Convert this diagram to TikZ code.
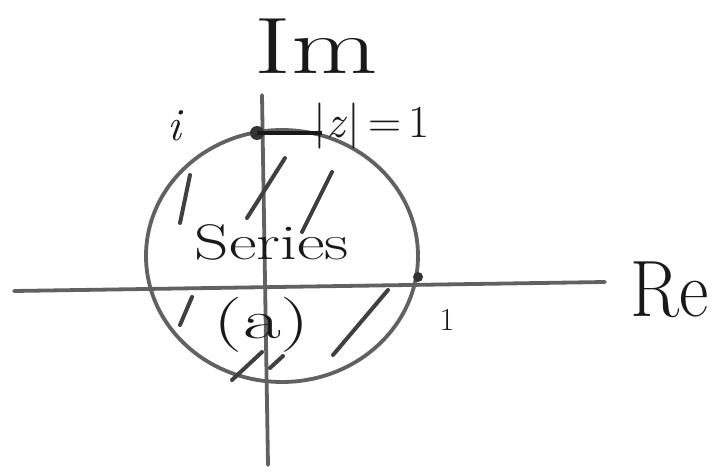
\documentclass[tikz,border=0pt]{standalone}
\usetikzlibrary{positioning}
\begin{document}
\begin{tikzpicture}[x=1pt,y=-1pt,
  axis/.style={line width=3.8pt,draw=black!62,line cap=round},
  hatch/.style={line width=4pt,draw=black!75,line cap=round},
  hand/.style={inner sep=0pt,text=black!90}]
\useasboundingbox (0,0) rectangle (716,474);
% axes
\coordinate (west) at (14,291);
\coordinate (east) at (605,282);
\coordinate (north) at (262,95);
\coordinate (south) at (268,465);
\draw[axis] (west) -- (east);
\draw[axis] (north) -- (south);
% unit circle
\coordinate (o) at (282,256);
\draw[axis] (o) ellipse [x radius=136, y radius=126];
\coordinate (ipt) at (257,133);
\coordinate (onept) at (418,277);
\fill[black!80] (ipt) circle (7);
\fill[black!80] (onept) circle (5);
\coordinate (bar) at (322,133);
\draw[line width=4.5pt,black!90] (ipt) -- (bar);
% hatching
\draw[hatch] (190,175) -- (180,223);
\draw[hatch] (285,158) -- (247,218);
\draw[hatch] (332,172) -- (302,232);
\draw[hatch] (192,297) -- (180,325);
\draw[hatch] (388,290) -- (333,355);
\draw[hatch] (262,352) -- (232,380);
\draw[hatch] (283,356) -- (270,368);
% labels
\node[hand,font=\fontsize{80}{80}\selectfont,xscale=1.4] (im) at (316,46) {Im};
\node[hand,font=\fontsize{80}{80}\selectfont,xscale=0.9] (re) at (670,290) {Re};
\node[hand,font=\fontsize{46}{46}\selectfont\itshape] (ilbl) at (174,126) {i};
\node[hand,font=\fontsize{32}{32}\selectfont] (onelbl) at (447,320) {1};
\node[hand,font=\fontsize{46}{46}\selectfont] (zlbl) at (372,126) {|\textit{z}|\,=\,1};
\node[hand,font=\fontsize{50}{50}\selectfont,xscale=1.35] (series) at (272,242) {Series};
\node[hand,font=\fontsize{55}{55}\selectfont,xscale=1.5] (alab) at (262,325) {(a)};
\end{tikzpicture}
\end{document}
